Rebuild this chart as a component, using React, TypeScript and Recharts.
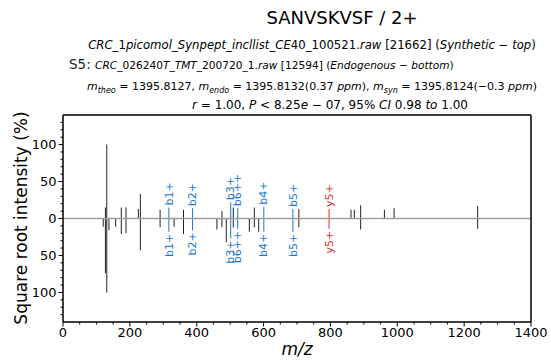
import React from 'react';
import { ComposedChart, XAxis, YAxis, Bar, Cell, ReferenceLine, ReferenceDot } from 'recharts';

// synthetic spectrum (top), unannotated peaks
const topMz = [127.4, 131.5, 175, 189, 226, 232, 291, 361, 476, 510, 573, 706, 862, 872, 891, 962, 991, 1241];
const topIntensity = [15, 100, 15, 15, 13, 33, 12, 12, 10, 15, 15, 13, 12, 12, 18, 12, 14, 17];

// endogenous spectrum (bottom, mirrored), unannotated peaks
const bottomMz = [121, 127.4, 131.5, 138, 158, 175, 189, 232, 291, 333, 361, 461, 476, 489, 510, 558, 573, 586, 706, 891, 1241];
const bottomIntensity = [11, 74, 100, 16, 11, 21, 20, 43, 12, 11, 21, 15, 12, 32, 12, 18, 12, 18, 12, 15, 14];

// annotated fragment ions
const ionLabels = ['b1+', 'b2+', 'b3+', 'b6++', 'b4+', 'b5+', 'y5+'];
const ionMz = [317.2, 388.2, 502.2, 523.3, 601.3, 688.3, 796.5];
const ionTop = [15, 14, 22, 14, 16, 13, 13];
const ionBottom = [18, 16, 27, 14, 18, 18, 14];

const xTicks = [0, 50, 100, 150, 200, 250, 300, 350, 400, 450, 500, 550, 600, 650, 700, 750, 800, 850, 900, 950, 1000, 1050, 1100, 1150, 1200, 1250, 1300, 1350, 1400];
const xMajor = [0, 200, 400, 600, 800, 1000, 1200, 1400];
const yTicks = [-130, -120, -110, -100, -90, -80, -70, -60, -50, -40, -30, -20, -10, 0, 10, 20, 30, 40, 50, 60, 70, 80, 90, 100, 110, 120, 130];
const yMajor = [-100, -50, 0, 50, 100];

const FONT = '"DejaVu Sans", sans-serif';
const PEAK = '#212121';
const B_COLOR = '#1976d2';
const Y_COLOR = '#d32f2f';

const ionColor = (label: string) => (label.startsWith('y') ? Y_COLOR : B_COLOR);

type Row = { mz: number; top?: number; bottom?: number; label?: string };

// one row per m/z, mirrored intensities negative
const rowMap = new Map<number, Row>();
const rowFor = (mz: number) => {
  if (!rowMap.has(mz)) rowMap.set(mz, { mz });
  return rowMap.get(mz)!;
};
topMz.forEach((mz, i) => (rowFor(mz).top = topIntensity[i]));
bottomMz.forEach((mz, i) => (rowFor(mz).bottom = -bottomIntensity[i]));
ionMz.forEach((mz, i) => {
  const r = rowFor(mz);
  r.top = ionTop[i];
  r.bottom = -ionBottom[i];
  r.label = ionLabels[i];
});
const rows = Array.from(rowMap.values()).sort((a, b) => a.mz - b.mz);
const rowColor = (r: Row) => (r.label ? ionColor(r.label) : PEAK);

const XTick = (props: any) => {
  const { x, y, payload } = props;
  const major = xMajor.includes(payload.value);
  return (
    <g>
      <line x1={x} x2={x} y1={y} y2={y + (major ? 4.5 : 2.5)} stroke="#000" strokeWidth={1} />
      {major && (
        <text x={x} y={y + 15} textAnchor="middle" fontSize={13} fontFamily={FONT} fill="#000">
          {payload.value}
        </text>
      )}
    </g>
  );
};

const YTick = (props: any) => {
  const { x, y, payload } = props;
  const major = yMajor.includes(payload.value);
  return (
    <g>
      <line x1={x} x2={x - (major ? 4.5 : 2.5)} y1={y} y2={y} stroke="#000" strokeWidth={1} />
      {major && (
        <text x={x - 6.5} y={y + 4.7} textAnchor="end" fontSize={13} fontFamily={FONT} fill="#000">
          {Math.abs(payload.value)}
        </text>
      )}
    </g>
  );
};

const IonLabel = (label: string, side: 'top' | 'bottom') => (props: any) => {
  const { cx, cy } = props;
  const y = side === 'top' ? cy - 2 : cy + 2;
  return (
    <text
      x={cx}
      y={y}
      transform={`rotate(-90 ${cx} ${y})`}
      textAnchor={side === 'top' ? 'start' : 'end'}
      dominantBaseline="central"
      fontSize={11}
      fontFamily={FONT}
      fill={ionColor(label)}
    >
      {label}
    </text>
  );
};

// letters italic, everything else upright (mathtext look)
const mathRuns = (s: string) =>
  s.match(/[A-Za-z]+|[^A-Za-z]+/g)!.map((r, i) => (
    <tspan key={i} fontStyle={/[A-Za-z]/.test(r) ? 'italic' : 'normal'}>
      {r}
    </tspan>
  ));

const Header = () => (
  <svg
    width={551}
    height={361}
    style={{ position: 'absolute', left: 0, top: 0, pointerEvents: 'none' }}
    fontFamily={FONT}
  >
    <text x={342} y={24} textAnchor="middle" fontSize={18} fill="#000">
      SANVSKVSF / 2+
    </text>
    <text x={312} y={49} textAnchor="middle" fontSize={11.7} fill="#000">
      {mathRuns('CRC_1picomol_Synpept_incllist_CE40_100521.raw')}
      <tspan> [21662] (</tspan>
      {mathRuns('Synthetic − top')}
      <tspan>)</tspan>
    </text>
    <text x={69} y={69} textAnchor="start" fontSize={10.6} fill="#000">
      <tspan fontSize={13.5} fill="#222">S5: </tspan>
      {mathRuns('CRC_026240T_TMT_200720_1.raw')}
      <tspan> [12594] (</tspan>
      {mathRuns('Endogenous − bottom')}
      <tspan>)</tspan>
    </text>
    <text x={312} y={90} textAnchor="middle" fontSize={11} fill="#000">
      <tspan fontStyle="italic">m</tspan>
      <tspan fontStyle="italic" fontSize={8} dy={2.5}>theo</tspan>
      <tspan dy={-2.5}> = 1395.8127, </tspan>
      <tspan fontStyle="italic">m</tspan>
      <tspan fontStyle="italic" fontSize={8} dy={2.5}>endo</tspan>
      <tspan dy={-2.5}> = 1395.8132(0.37 </tspan>
      <tspan fontStyle="italic">ppm</tspan>
      <tspan>), </tspan>
      <tspan fontStyle="italic">m</tspan>
      <tspan fontStyle="italic" fontSize={8} dy={2.5}>syn</tspan>
      <tspan dy={-2.5}> = 1395.8124(−0.3 </tspan>
      <tspan fontStyle="italic">ppm</tspan>
      <tspan>)</tspan>
    </text>
    <text x={330} y={109} textAnchor="middle" fontSize={12} fill="#000">
      {mathRuns('r = 1.00,  P < 8.25e − 07,  95% CI 0.98 to 1.00')}
    </text>
    <text
      x={27}
      y={218}
      transform="rotate(-90 27 218)"
      textAnchor="middle"
      fontSize={17}
      fill="#000"
    >
      Square root intensity (%)
    </text>
    <text x={297} y={355} textAnchor="middle" fontSize={17} fontStyle="italic" fill="#000">
      m/z
    </text>
  </svg>
);

export default function App() {
  return (
    <div style={{ position: 'absolute', left: 0, top: 0, width: 551, height: 361, background: '#fff' }}>
      <ComposedChart
        width={551}
        height={361}
        data={rows}
        stackOffset="sign"
        margin={{ top: 114, right: 19, bottom: 0, left: 0 }}
      >
        <XAxis
          xAxisId="x"
          dataKey="mz"
          type="number"
          domain={[0, 1400]}
          ticks={xTicks}
          interval={0}
          tickSize={0}
          tickMargin={0}
          tickLine={false}
          tick={(p: any) => <XTick {...p} />}
          axisLine={{ stroke: '#000', strokeWidth: 1.5 }}
          height={39}
          allowDataOverflow
        />
        <XAxis
          xAxisId="top"
          orientation="top"
          dataKey="mz"
          type="number"
          domain={[0, 1400]}
          height={1}
          tick={false}
          tickLine={false}
          axisLine={{ stroke: '#000', strokeWidth: 1.5 }}
        />
        <YAxis
          yAxisId="y"
          type="number"
          domain={[-140, 140]}
          ticks={yTicks}
          interval={0}
          tickSize={0}
          tickMargin={0}
          tickLine={false}
          tick={(p: any) => <YTick {...p} />}
          axisLine={{ stroke: '#000', strokeWidth: 1.5 }}
          width={63}
          allowDataOverflow
        />
        <YAxis
          yAxisId="right"
          orientation="right"
          type="number"
          domain={[-140, 140]}
          width={1}
          tick={false}
          tickLine={false}
          axisLine={{ stroke: '#000', strokeWidth: 1.5 }}
        />
        <Bar xAxisId="x" yAxisId="y" dataKey="top" stackId="s" barSize={1} isAnimationActive={false}>
          {rows.map((r, i) => (
            <Cell key={i} fill={rowColor(r)} />
          ))}
        </Bar>
        <Bar xAxisId="x" yAxisId="y" dataKey="bottom" stackId="s" barSize={1} isAnimationActive={false}>
          {rows.map((r, i) => (
            <Cell key={i} fill={rowColor(r)} />
          ))}
        </Bar>
        {ionMz.map((mz, i) => (
          <ReferenceDot
            key={`lt${i}`}
            xAxisId="x"
            yAxisId="y"
            x={mz}
            y={ionTop[i]}
            shape={IonLabel(ionLabels[i], 'top')}
          />
        ))}
        {ionMz.map((mz, i) => (
          <ReferenceDot
            key={`lb${i}`}
            xAxisId="x"
            yAxisId="y"
            x={mz}
            y={-ionBottom[i]}
            shape={IonLabel(ionLabels[i], 'bottom')}
          />
        ))}
        <ReferenceLine xAxisId="x" yAxisId="y" y={0} stroke="#9e9e9e" strokeWidth={1.5} />
      </ComposedChart>
      <Header />
    </div>
  );
}
